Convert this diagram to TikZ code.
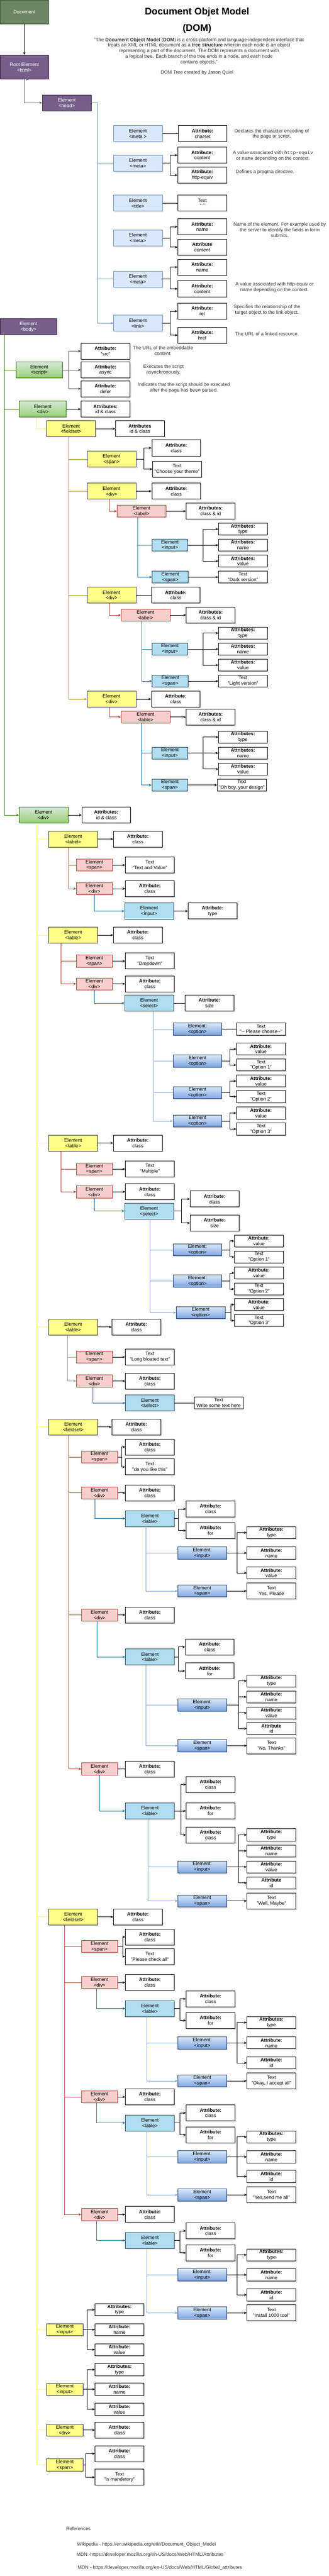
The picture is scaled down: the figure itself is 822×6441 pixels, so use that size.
\documentclass[tikz,border=0pt]{standalone}
\usepackage{fontspec}
\setmainfont{Liberation Sans}
\newfontfamily\codefont{Liberation Mono}
\usetikzlibrary{arrows.meta,shadows}

\definecolor{docfill}{HTML}{6D8764}
\definecolor{docline}{HTML}{3A5431}
\definecolor{rootfill}{HTML}{76608A}
\definecolor{rootline}{HTML}{2B1F36}
\definecolor{headfill}{HTML}{DAE8FC}
\definecolor{headline}{HTML}{6C8EBF}
\definecolor{greentop}{HTML}{D5E8D4}
\definecolor{greenbot}{HTML}{97D077}
\definecolor{greenline}{HTML}{2D7600}
\definecolor{yelfill}{HTML}{FFFF88}
\definecolor{yelline}{HTML}{36393D}
\definecolor{paleyel}{HTML}{FFFF66}
\definecolor{olive}{HTML}{B09500}
\definecolor{pinkfill}{HTML}{F8CECC}
\definecolor{redline}{HTML}{AE4132}
\definecolor{tealfill}{HTML}{B1DDF0}
\definecolor{tealline}{HTML}{10739E}
\definecolor{tealdraw}{HTML}{23445D}
\definecolor{opttop}{HTML}{DAE8FC}
\definecolor{optbot}{HTML}{7EA6E0}
\definecolor{optdraw}{HTML}{1F3C6E}
\definecolor{lightblue}{HTML}{7EA6E0}
\definecolor{remarkgray}{HTML}{333333}

\tikzset{
  elem/.style={draw,line width=1pt,align=center,inner sep=1pt,
    minimum width=122,minimum height=40,
    drop shadow={shadow xshift=3pt,shadow yshift=-3pt,opacity=.18}},
  docbox/.style={elem,fill=docfill,draw=docline,text=white,minimum height=60},
  rootbox/.style={elem,fill=rootfill,draw=rootline,text=white,minimum height=60},
  headbox/.style={elem,fill=headfill,draw=headline},
  greenbox/.style={elem,top color=greentop,bottom color=greenbot,draw=greenline},
  yelbox/.style={elem,fill=yelfill,draw=yelline},
  pinkbox/.style={elem,fill=pinkfill,draw=redline},
  tealbox/.style={elem,fill=tealfill,draw=tealdraw},
  optbox/.style={elem,top color=opttop,bottom color=optbot,draw=optdraw},
  attrbox/.style={elem,fill=white,line width=1.2pt},
  narrow/.style={minimum width=90,minimum height=30},
  flat/.style={minimum height=30},
  remark/.style={text=remarkgray,align=center},
  ln/.style={line width=1pt},
  ar/.style={line width=1pt,-{Stealth[length=7pt,width=6pt]}},
}

\begin{document}
\begin{tikzpicture}[x=1pt,y=-1pt,font=\fontsize{12}{14}\selectfont]
\useasboundingbox (0,0) rectangle (822,6441);

% header
\node (title) at (493,30) [font=\fontsize{24}{28}\selectfont\bfseries] {Document Objet Model};
\node (dom) at (493,72) [font=\fontsize{24}{28}\selectfont\bfseries] {(DOM)};
\node (quote) at (498,128) [remark] {"The \textbf{Document Object Model} (\textbf{DOM}) is a cross-platform and language-independent interface that\\
treats an XML or HTML document as a \textbf{tree structure} wherein each node is an object\\
representing a part of the document. The DOM represents a document with\\
a logical tree. Each branch of the tree ends in a node, and each node\\
contains objects."};
\node (author) at (493,182) [remark] {DOM Tree created by Jason Quiel};

\node (doc) at (61,30) [docbox] {Document};
\node (root) at (61,168) [rootbox] {Root Element\\<html>};
\node (head) at (167,257) [rootbox,minimum height=40] {Element\\<head>};
\node (body) at (71,817) [rootbox,minimum width=142,minimum height=40] {Element\\<body>};
\draw[ar] (doc) -- (root);
\draw[ar,rootfill] (root) |- (head);
\draw[ar,rootfill] (root) -- (root.south -| body.north);

% head
\node (meta1) at (345,334) [headbox] {Element\\<meta >};
\node (charset) at (507,334) [attrbox] {\textbf{Attribute:}\\charset};
\node (d1) at (680,335) [remark] {Declares the character encoding of\\the page or script.};
\node (meta2) at (345,408) [headbox] {Element\\<meta>};
\node (content1) at (506,388) [attrbox] {\textbf{Attribute:}\\content};
\node (equiv) at (506,438) [attrbox] {\textbf{Attribute:}\\http-equiv};
\node (d2) at (683,390) [remark] {A value associated with {\codefont http-equiv}\\or {\codefont name} depending on the context.};
\node (d3) at (663,431) [remark] {Defines a pragma directive.};
\node (titl) at (345,508) [headbox] {Element\\<title>};
\node (txt0) at (506,508) [attrbox] {Text\\" "};
\node (meta3) at (345,595) [headbox] {Element\\<meta>};
\node (name1) at (506,567) [attrbox] {\textbf{Attribute:}\\name};
\node (content2) at (506,618) [attrbox] {\textbf{Attribute}\\\textit{content}};
\node (d4) at (700,575) [remark] {Name of the element. For example used by\\the server to identify the fields in form\\submits.};
\node (meta4) at (345,698) [headbox] {Element\\<meta>};
\node (name2) at (506,668) [attrbox] {\textbf{Attribute:}\\name};
\node (content3) at (506,722) [attrbox] {\textbf{Attribute:}\\content};
\node (d5) at (687,718) [remark] {A value associated with http-equiv or\\name depending on the context.};
\node (link) at (345,808) [headbox] {Element\\<link>};
\node (rel) at (506,778) [attrbox] {\textbf{Attribute:}\\rel};
\node (href) at (506,838) [attrbox] {\textbf{Attribute:}\\href};
\node (d6) at (668,775) [remark] {Specifies the relationship of the\\target object to the link object.};
\node (d7) at (668,835) [remark] {The URL of a linked resource.};

\draw[ln,headline] (head.east) -- ++(15,0) |- (meta2);
\draw[ln,headline] (head.east) -- ++(15,0) |- (meta4);
\draw[ar,headline] (head.east) -- ++(15,0) |- (link);
\draw[ln] (meta1) -- (charset);
\draw[ar] (meta2.east) -- ++(19,0) |- (content1);
\draw[ar] (meta2.east) -- ++(19,0) |- (equiv);
\draw[ln] (titl) -- (txt0);
\draw[ar] (meta3.east) -- ++(19,0) |- (name1);
\draw[ar] (meta3.east) -- ++(19,0) |- (content2);
\draw[ar] (meta4.east) -- ++(19,0) |- (name2);
\draw[ar] (meta4.east) -- ++(19,0) |- (content3);
\draw[ar] (link.east) -- ++(19,0) |- (rel);
\draw[ar] (link.east) -- ++(19,0) |- (href);

% body
\node (script) at (98,925) [greenbox,minimum width=116] {Element\\<script>};
\node (src) at (264,878) [attrbox] {\textbf{Attribute:}\\"src"};
\node (async) at (264,925) [attrbox] {\textbf{Attribute:}\\async};
\node (defer) at (264,972) [attrbox] {\textbf{Attribute:}\\defer};
\node (d8) at (408,877) [remark] {The URL of the embeddable\\content.};
\node (d9) at (409,924) [remark] {Executes the script\\asynchronously.};
\node (d10) at (460,969) [remark] {Indicates that the script should be executed\\after the page has been parsed.};
\node (div1) at (107,1023) [greenbox,minimum width=117] {Element\\<div>};
\node (idc1) at (264,1023) [attrbox] {\textbf{Attributes:}\\id \& class};
\node (div2) at (109,2038) [greenbox] {Element\\<div>};
\node (idc3) at (266,2038) [attrbox] {\textbf{Attributes:}\\id \& class};

\draw[ln,greenline] ([xshift=-60pt]body.south) |- (script);
\draw[ln,greenline] ([xshift=-60pt]body.south) |- (div1);
\draw[ar,greenline] ([xshift=-60pt]body.south) |- (div2);
\draw[ar,black!75] (script.east) -- ++(15,0) |- (src);
\draw[ar,black!75] (script.east) -- ++(15,0) |- (async);
\draw[ar,black!75] (script.east) -- ++(15,0) |- (defer);
\draw[ar] (div1) -- (idc1);
\draw[ar] (div2) -- (idc3);

% first fieldset
\node (fs1) at (178,1072) [yelbox] {Element\\<fieldset>};
\node (idc2) at (350,1072) [attrbox] {\textbf{Attributes}\\id \& class};
\node (span1) at (279,1148) [yelbox] {Element\\<span>};
\node (cls1) at (441,1120) [attrbox] {\textbf{Attribute:}\\class};
\node (theme) at (443,1173) [attrbox] {Text\\"Choose your theme"};
\node (divA) at (279,1228) [yelbox] {Element\\<div>};
\node (clsA) at (441,1228) [attrbox] {\textbf{Attribute:}\\class};
\node (labelA) at (354,1278) [pinkbox,flat] {Element\\<label>};
\node (cidA) at (527,1278) [attrbox] {\textbf{Attributes:}\\class \& id};
\node (inputA) at (425,1363) [tealbox,narrow] {Element\\<input>};
\node (typeA) at (608,1323) [attrbox,flat] {\textbf{Attributes:}\\type};
\node (nameA) at (608,1363) [attrbox,flat] {\textbf{Attributes:}\\name};
\node (valA) at (608,1403) [attrbox,flat] {\textbf{Attributes:}\\value};
\node (spanA) at (426,1443) [tealbox,narrow] {Element\\<span>};
\node (dark) at (608,1443) [attrbox,flat] {Text\\"Dark version"};
\node (divB) at (279,1488) [yelbox] {Element\\<div>};
\node (clsB) at (440,1488) [attrbox] {\textbf{Attribute:}\\class};
\node (labelB) at (364,1538) [pinkbox,flat] {Element\\<label>};
\node (cidB) at (527,1538) [attrbox] {\textbf{Attributes:}\\class \& id};
\node (inputB) at (425,1623) [tealbox,narrow] {Element\\<input>};
\node (typeB) at (608,1583) [attrbox,flat] {\textbf{Attributes:}\\type};
\node (nameB) at (608,1623) [attrbox,flat] {\textbf{Attributes:}\\name};
\node (valB) at (608,1663) [attrbox,flat] {\textbf{Attributes:}\\value};
\node (spanB) at (426,1703) [tealbox,narrow] {Element\\<span>};
\node (light) at (608,1703) [attrbox,flat] {Text\\"Light version"};
\node (divC) at (279,1748) [yelbox] {Element\\<div>};
\node (clsC) at (440,1748) [attrbox] {\textbf{Attribute:}\\class};
\node (labelC) at (364,1793) [pinkbox,flat] {Element\\<lable>};
\node (cidC) at (527,1793) [attrbox] {\textbf{Attributes:}\\class \& id};
\node (inputC) at (425,1883) [tealbox,narrow] {Element\\<input>};
\node (typeC) at (608,1843) [attrbox,flat] {\textbf{Attributes:}\\type};
\node (nameC) at (608,1883) [attrbox,flat] {\textbf{Attributes:}\\name};
\node (valC) at (608,1923) [attrbox,flat] {\textbf{Attributes:}\\value};
\node (spanC) at (425,1963) [tealbox,narrow] {Element\\<span>};
\node (design) at (605,1963) [attrbox,flat] {Text\\"Oh boy, your design"};

\draw[ar,paleyel] ([xshift=-16pt]div1.south) |- (fs1);
\draw[ar] (fs1) -- (idc2);
\draw[ln,olive] ([xshift=-6pt]fs1.south) |- (span1);
\draw[ln,olive] ([xshift=-6pt]fs1.south) |- (divA);
\draw[ln,olive] ([xshift=-6pt]fs1.south) |- (divB);
\draw[ar,olive] ([xshift=-6pt]fs1.south) |- (divC);
\draw[ar] (span1.east) -- ++(20,0) |- (cls1);
\draw[ar] (span1.east) -- ++(20,0) |- (theme);
\draw[ar] (divA) -- (clsA);
\draw[ar,redline] ([xshift=-5pt]divA.south) |- (labelA);
\draw[ar] (labelA) -- (cidA);
\draw[ln,headline] ([xshift=-9pt]labelA.south) |- (inputA);
\draw[ar,tealline] ([xshift=-9pt]labelA.south) |- (spanA);
\draw[ar] (inputA.east) -- ++(38,0) |- (typeA);
\draw[ar] (inputA) -- (nameA);
\draw[ar] (inputA.east) -- ++(38,0) |- (valA);
\draw[ar] (spanA) -- (dark);
\draw[ln] (divB) -- (clsB);
\draw[ar,redline] ([xshift=-5pt]divB.south) |- (labelB);
\draw[ar] (labelB) -- (cidB);
\draw[ln,tealline] ([xshift=-9pt]labelB.south) |- (inputB);
\draw[ar,tealline] ([xshift=-9pt]labelB.south) |- (spanB);
\draw[ar] (inputB.east) -- ++(38,0) |- (typeB);
\draw[ar] (inputB) -- (nameB);
\draw[ar] (inputB.east) -- ++(38,0) |- (valB);
\draw[ar] (spanB) -- (light);
\draw[ar] (divC) -- (clsC);
\draw[ar,redline] ([xshift=-5pt]divC.south) |- (labelC);
\draw[ar] (labelC) -- (cidC);
\draw[ln,tealline] ([xshift=-10pt]labelC.south) |- (inputC);
\draw[ar,tealline] ([xshift=-10pt]labelC.south) |- (spanC);
\draw[ar] (inputC.east) -- ++(38,0) |- (typeC);
\draw[ar] (inputC) -- (nameC);
\draw[ar] (inputC.east) -- ++(38,0) |- (valC);
\draw[ar] (spanC) -- (design);

% second div: labels
\node (lab1) at (183,2098) [yelbox] {Element\\<label>};
\node (clsL1) at (345,2098) [attrbox] {\textbf{Attribute:}\\class};
\node (spanP1) at (236,2163) [pinkbox,narrow] {Element\\<span>};
\node (tv) at (375,2163) [attrbox] {Text\\"Text and Value"};
\node (divP1) at (236,2222) [pinkbox,narrow] {Element\\<div>};
\node (clsP1) at (375,2222) [attrbox] {\textbf{Attribute:}\\class};
\node (inT1) at (373,2278) [tealbox] {Element\\<input>};
\node (typeT1) at (532,2278) [attrbox] {\textbf{Attribute:}\\type};

\node (lab2) at (183,2338) [yelbox] {Element\\<lable>};
\node (clsL2) at (345,2338) [attrbox] {\textbf{Attribute:}\\class};
\node (spanP2) at (236,2403) [pinkbox,narrow] {Element\\<span>};
\node (drop) at (375,2403) [attrbox] {Text\\"Dropdown"};
\node (divP2) at (236,2460) [pinkbox,narrow] {Element\\<div>};
\node (clsP2) at (375,2460) [attrbox] {\textbf{Attribute:}\\class};
\node (sel1) at (373,2508) [tealbox] {Element\\<select>};
\node (size1) at (524,2508) [attrbox] {\textbf{Attribute:}\\size};
\node (opt1) at (494,2573) [optbox,flat] {Element:\\<option>};
\node (choose) at (653,2573) [attrbox,flat] {Text\\"{-}{-} Please choose{-}{-}"};
\node (opt2) at (494,2653) [optbox,flat] {Element\\<option>};
\node (v1) at (653,2623) [attrbox,flat] {\textbf{Attribute:}\\value};
\node (o1) at (653,2663) [attrbox,flat] {Text\\"Option 1"};
\node (opt3) at (494,2732) [optbox,flat] {Element\\<option>};
\node (v2) at (653,2703) [attrbox,flat] {\textbf{Attribute:}\\value};
\node (o2) at (653,2742) [attrbox,flat] {Text\\"Option 2"};
\node (opt4) at (494,2803) [optbox,flat] {Element\\<option>};
\node (v3) at (653,2783) [attrbox,flat] {\textbf{Attribute:}\\value};
\node (o3) at (653,2823) [attrbox,flat] {Text\\"Option 3"};

\node (lab3) at (183,2858) [yelbox] {Element\\<lable>};
\node (clsL3) at (345,2858) [attrbox] {\textbf{Attribute:}\\class};
\node (spanP3) at (236,2923) [pinkbox,narrow] {Element\\<span>};
\node (multi) at (375,2923) [attrbox] {Text\\"Multiple"};
\node (divP3) at (236,2980) [pinkbox,narrow] {Element\\<div>};
\node (clsP3) at (375,2980) [attrbox] {\textbf{Attribute:}\\class};
\node (sel2) at (373,3028) [tealbox] {Element\\<select>};
\node (clsS2) at (537,2998) [attrbox] {\textbf{Attribute:}\\class};
\node (sizeS2) at (537,3058) [attrbox] {\textbf{Attribute:}\\size};
\node (optA) at (494,3125) [optbox,flat] {Element:\\<option>};
\node (vA) at (648,3103) [attrbox,flat] {\textbf{Attribute:}\\value};
\node (oA) at (648,3143) [attrbox,flat] {Text\\"Option 1"};
\node (optB) at (494,3203) [optbox,flat] {Element:\\<option>};
\node (vB) at (648,3183) [attrbox,flat] {\textbf{Attribute:}\\value};
\node (oB) at (648,3223) [attrbox,flat] {Text\\"Option 2"};
\node (optC) at (502,3282) [optbox,flat] {Element\\<option>};
\node (vC) at (648,3262) [attrbox,flat] {\textbf{Attribute:}\\value};
\node (oC) at (648,3302) [attrbox,flat] {Text\\"Option 3"};

\node (lab4) at (183,3318) [yelbox] {Element\\<lable>};
\node (clsL4) at (341,3318) [attrbox] {\textbf{Attribute:}\\class};
\node (spanP4) at (236,3393) [pinkbox,narrow] {Element\\<span>};
\node (bloat) at (375,3393) [attrbox] {Text\\"Long bloated text"};
\node (divP4) at (236,3453) [pinkbox,narrow] {Element\\<div>};
\node (clsP4) at (375,3453) [attrbox] {\textbf{Attribute:}\\class};
\node (sel3) at (375,3508) [tealbox] {Element\\<select>};
\node (write) at (547,3508) [attrbox,flat] {Text\\Write some text here};

\draw[ln,paleyel] ([xshift=-17pt]div2.south) |- (lab1);
\draw[ln,paleyel] ([xshift=-17pt]div2.south) |- (lab2);
\draw[ln,paleyel] ([xshift=-17pt]div2.south) |- (lab3);
\draw[ln,paleyel] ([xshift=-17pt]div2.south) |- (lab4);
\draw[ar] (lab1) -- (clsL1);
\draw[ln,redline] ([xshift=-11pt]lab1.south) |- (spanP1);
\draw[ar,redline] ([xshift=-11pt]lab1.south) |- (divP1);
\draw[ar] (spanP1) -- (tv);
\draw[ar] (divP1) -- (clsP1);
\draw[ar,tealline] (divP1.south) |- (inT1);
\draw[ar] (inT1) -- (typeT1);
\draw[ar] (lab2) -- (clsL2);
\draw[ln,redline] ([xshift=-30pt]lab2.south) |- (spanP2);
\draw[ar,redline] ([xshift=-30pt]lab2.south) |- (divP2);
\draw[ar] (spanP2) -- (drop);
\draw[ar] (divP2) -- (clsP2);
\draw[ar,tealline] (divP2.south) |- (sel1);
\draw[ln] (sel1) -- (size1);
\draw[ln,lightblue] ([xshift=12pt]sel1.south) |- (opt1);
\draw[ln,lightblue] ([xshift=12pt]sel1.south) |- (opt2);
\draw[ln,lightblue] ([xshift=12pt]sel1.south) |- (opt3);
\draw[ar,lightblue] ([xshift=12pt]sel1.south) |- (opt4);
\draw[ln] (opt1) -- (choose);
\draw[ar] (opt2.east) -- ++(19,0) |- (v1);
\draw[ar] (opt2.east) -- ++(19,0) |- (o1);
\draw[ar] (opt3.east) -- ++(19,0) |- (v2);
\draw[ar] (opt3.east) -- ++(19,0) |- (o2);
\draw[ar] (opt4.east) -- ++(19,0) |- (v3);
\draw[ar] (opt4.east) -- ++(19,0) |- (o3);
\draw[ar] (lab3) -- (clsL3);
\draw[ln,redline] ([xshift=-30pt]lab3.south) |- (spanP3);
\draw[ar,redline] ([xshift=-30pt]lab3.south) |- (divP3);
\draw[ar] (spanP3) -- (multi);
\draw[ar] (divP3) -- (clsP3);
\draw[ar,tealline] (divP3.south) |- (sel2);
\draw[ar] (sel2.east) -- ++(20,0) |- (clsS2);
\draw[ar] (sel2.east) -- ++(20,0) |- (sizeS2);
\draw[ln,lightblue] ([xshift=2pt]sel2.south) |- (optA);
\draw[ln,lightblue] ([xshift=2pt]sel2.south) |- (optB);
\draw[ar,lightblue] ([xshift=2pt]sel2.south) |- (optC);
\draw[ar] (optA.east) -- ++(19,0) |- (vA);
\draw[ar] (optA.east) -- ++(19,0) |- (oA);
\draw[ar] (optB.east) -- ++(19,0) |- (vB);
\draw[ar] (optB.east) -- ++(19,0) |- (oB);
\draw[ar] (optC.east) -- ++(14,0) |- (vC);
\draw[ar] (optC.east) -- ++(14,0) |- (oC);
\draw[ar] (lab4) -- (clsL4);
\draw[ln,black!40] ([xshift=-14pt]lab4.south) |- (spanP4);
\draw[ar,black!40] ([xshift=-14pt]lab4.south) |- (divP4);
\draw[ar] (spanP4) -- (bloat);
\draw[ar] (divP4) -- (clsP4);
\draw[ar,tealline] ([xshift=-3pt]divP4.south) |- (sel3);
\draw[ln] (sel3) -- (write);

% second fieldset
\node (fs2) at (183,3568) [yelbox] {Element\\<fieldset>};
\node (clsF2) at (341,3568) [attrbox] {\textbf{Attribute:}\\class};
\node (spanQ1) at (249,3643) [pinkbox,narrow] {Element\\<span>};
\node (clsQ1) at (375,3618) [attrbox] {\textbf{Attribute:}\\class};
\node (like) at (375,3668) [attrbox] {Text\\"do you like this"};
\node (divQ1) at (249,3733) [pinkbox,narrow] {Element\\<div>};
\node (clsQ1b) at (375,3733) [attrbox] {\textbf{Attribute:}\\class};
\node (labT1) at (375,3797) [tealbox] {Element\\<lable>};
\node (clsT1) at (527,3773) [attrbox] {\textbf{Attribute:}\\class};
\node (forT1) at (527,3827) [attrbox] {\textbf{Attribute:}\\for};
\node (inO1) at (506,3883) [optbox,flat] {Element:\\<input>};
\node (tyO1) at (679,3832) [attrbox,flat] {\textbf{Attributes:}\\type};
\node (naO1) at (679,3883) [attrbox,flat] {\textbf{Attribute:}\\name};
\node (vaO1) at (679,3933) [attrbox,flat] {\textbf{Attribute:}\\value};
\node (spO1) at (506,3978) [optbox,flat] {Element\\<span>};
\node (yes) at (679,3978) [attrbox] {Text\\Yes, Please};
\node (divQ2) at (249,4038) [pinkbox,narrow] {Element\\<div>};
\node (clsQ2) at (375,4038) [attrbox] {\textbf{Attribute:}\\class};
\node (labT2) at (375,4143) [tealbox] {Element\\<lable>};
\node (clsT2) at (525,4118) [attrbox] {\textbf{Attribute:}\\class};
\node (forT2) at (525,4178) [attrbox] {\textbf{Attribute:}\\for};
\node (inO2) at (506,4263) [optbox,flat] {Element:\\<input>};
\node (tyO2) at (679,4203) [attrbox,flat] {\textbf{Attribute:}\\type};
\node (naO2) at (679,4243) [attrbox,flat] {\textbf{Attribute:}\\name};
\node (vaO2) at (679,4283) [attrbox,flat] {\textbf{Attribute:}\\value};
\node (idO2) at (679,4322) [attrbox,flat] {\textbf{Attribute}\\id};
\node (spO2) at (506,4365) [optbox,flat] {Element\\<span>};
\node (thanks) at (679,4365) [attrbox] {Text\\"No, Thanks"};
\node (divQ3) at (249,4423) [pinkbox,narrow] {Element\\<div>};
\node (clsQ3) at (375,4423) [attrbox] {\textbf{Attribute:}\\class};
\node (labT3) at (375,4528) [tealbox] {Element\\<lable>};
\node (clsT3a) at (527,4462) [attrbox] {\textbf{Attribute:}\\class};
\node (forT3) at (527,4528) [attrbox] {\textbf{Attribute:}\\for};
\node (clsT3b) at (527,4588) [attrbox] {\textbf{Attribute:}\\class};
\node (inO3) at (506,4668) [optbox,flat] {Element:\\<input>};
\node (tyO3) at (679,4588) [attrbox,flat] {\textbf{Attribute:}\\type};
\node (naO3) at (679,4628) [attrbox,flat] {\textbf{Attribute:}\\name};
\node (vaO3) at (679,4668) [attrbox,flat] {\textbf{Attribute:}\\value};
\node (idO3) at (679,4708) [attrbox,flat] {\textbf{Attribute}\\id};
\node (spO3) at (506,4753) [optbox,flat] {Element\\<span>};
\node (maybe) at (679,4753) [attrbox] {Text\\"Well, Maybe"};

\draw[ln,paleyel] ([xshift=-17pt]div2.south) |- (fs2);
\draw[ar] (fs2) -- (clsF2);
\draw[ln,redline] ([xshift=-11pt]fs2.south) |- (spanQ1);
\draw[ln,redline] ([xshift=-11pt]fs2.south) |- (divQ1);
\draw[ln,redline] ([xshift=-11pt]fs2.south) |- (divQ2);
\draw[ar,redline] ([xshift=-11pt]fs2.south) |- (divQ3);
\draw[ar] (spanQ1.east) -- ++(10,0) |- (clsQ1);
\draw[ar] (spanQ1.east) -- ++(10,0) |- (like);
\draw[ar] (divQ1) -- (clsQ1b);
\draw[ar,tealline] ([xshift=-11pt]divQ1.south) |- (labT1);
\draw[ar] (labT1.east) -- ++(10,0) |- (clsT1);
\draw[ar] (labT1.east) -- ++(10,0) |- (forT1);
\draw[ln,lightblue] ([xshift=-10pt]labT1.south) |- (inO1);
\draw[ar,lightblue] ([xshift=-10pt]labT1.south) |- (spO1);
\draw[ar] (inO1.east) -- ++(25,0) |- (tyO1);
\draw[ar] (inO1) -- (naO1);
\draw[ar] (inO1.east) -- ++(25,0) |- (vaO1);
\draw[ar] (spO1) -- (yes);
\draw[ar] (divQ2) -- (clsQ2);
\draw[ar,tealline] ([xshift=-6pt]divQ2.south) |- (labT2);
\draw[ar] (labT2.east) -- ++(10,0) |- (clsT2);
\draw[ar] (labT2.east) -- ++(10,0) |- (forT2);
\draw[ln,lightblue] ([xshift=-10pt]labT2.south) |- (inO2);
\draw[ar,lightblue] ([xshift=-10pt]labT2.south) |- (spO2);
\draw[ar] (inO2.east) -- ++(30,0) |- (tyO2);
\draw[ar] (inO2.east) -- ++(30,0) |- (naO2);
\draw[ar] (inO2.east) -- ++(30,0) |- (vaO2);
\draw[ar] (inO2.east) -- ++(30,0) |- (idO2);
\draw[ar] (spO2) -- (thanks);
\draw[ln] (divQ3) -- (clsQ3);
\draw[ar,tealline] (divQ3.south) |- (labT3);
\draw[ar] (labT3.east) -- ++(16,0) |- (clsT3a);
\draw[ar] (labT3) -- (forT3);
\draw[ar] (labT3.east) -- ++(16,0) |- (clsT3b);
\draw[ln,lightblue] ([xshift=-5pt]labT3.south) |- (inO3);
\draw[ar,lightblue] ([xshift=-5pt]labT3.south) |- (spO3);
\draw[ar] (inO3.east) -- ++(30,0) |- (tyO3);
\draw[ar] (inO3.east) -- ++(30,0) |- (naO3);
\draw[ar] (inO3) -- (vaO3);
\draw[ar] (inO3.east) -- ++(30,0) |- (idO3);
\draw[ar] (spO3) -- (maybe);

% third fieldset
\node (fs3) at (183,4793) [yelbox] {Element\\<fieldset>};
\node (clsF3) at (345,4793) [attrbox] {\textbf{Attribute:}\\class};
\node (spanR1) at (249,4867) [pinkbox,narrow] {Element\\<span>};
\node (clsR1) at (375,4843) [attrbox] {\textbf{Attribute:}\\class};
\node (check) at (375,4892) [attrbox] {Text\\"Please check all"};
\node (divR1) at (249,4957) [pinkbox,narrow] {Element\\<div>};
\node (clsR1b) at (375,4957) [attrbox] {\textbf{Attribute:}\\class};
\node (labT4) at (375,5022) [tealbox] {Element\\<lable>};
\node (clsT4) at (527,4998) [attrbox] {\textbf{Attribute:}\\class};
\node (forT4) at (527,5052) [attrbox] {\textbf{Attribute:}\\for};
\node (inO4) at (506,5108) [optbox,flat] {Element:\\<input>};
\node (tyO4) at (679,5057) [attrbox,flat] {\textbf{Attributes:}\\type};
\node (naO4) at (679,5108) [attrbox,flat] {\textbf{Attribute:}\\name};
\node (idO4) at (679,5158) [attrbox,flat] {\textbf{Attribute:}\\id};
\node (spO4) at (506,5203) [optbox,flat] {Element\\<span>};
\node (accept) at (679,5203) [attrbox] {Text\\"Okay, I accept all"};
\node (divR2) at (249,5243) [pinkbox,narrow] {Element\\<div>};
\node (clsR2) at (375,5243) [attrbox] {\textbf{Attribute:}\\class};
\node (labT5) at (375,5308) [tealbox] {Element\\<lable>};
\node (clsT5) at (527,5283) [attrbox] {\textbf{Attribute:}\\class};
\node (forT5) at (527,5338) [attrbox] {\textbf{Attribute:}\\for};
\node (inO5) at (506,5393) [optbox,flat] {Element:\\<input>};
\node (tyO5) at (679,5343) [attrbox,flat] {\textbf{Attributes:}\\type};
\node (naO5) at (679,5393) [attrbox,flat] {\textbf{Attribute:}\\name};
\node (idO5) at (679,5442) [attrbox,flat] {\textbf{Attribute:}\\id};
\node (spO5) at (506,5488) [optbox,flat] {Element\\<span>};
\node (sendall) at (679,5488) [attrbox] {Text\\"Yes,send me all"};
\node (divR3) at (249,5537) [pinkbox,narrow] {Element\\<div>};
\node (clsR3) at (375,5537) [attrbox] {\textbf{Attribute:}\\class};
\node (labT6) at (375,5602) [tealbox] {Element\\<lable>};
\node (clsT6) at (527,5578) [attrbox] {\textbf{Attribute:}\\class};
\node (forT6) at (527,5633) [attrbox] {\textbf{Attribute:}\\for};
\node (inO6) at (506,5688) [optbox,flat] {Element:\\<input>};
\node (tyO6) at (679,5638) [attrbox,flat] {\textbf{Attributes:}\\type};
\node (naO6) at (679,5688) [attrbox,flat] {\textbf{Attribute:}\\name};
\node (idO6) at (679,5738) [attrbox,flat] {\textbf{Attribute:}\\id};
\node (spO6) at (506,5783) [optbox,flat] {Element\\<span>};
\node (install) at (679,5783) [attrbox] {Text\\"Install 1000 tool"};

\draw[ln,paleyel] ([xshift=-17pt]div2.south) |- (fs3);
\draw[ar] (fs3) -- (clsF3);
\draw[ln,redline] ([xshift=-21pt]fs3.south) |- (spanR1);
\draw[ln,redline] ([xshift=-21pt]fs3.south) |- (divR1);
\draw[ln,redline] ([xshift=-21pt]fs3.south) |- (divR2);
\draw[ar,redline] ([xshift=-21pt]fs3.south) |- (divR3);
\draw[ar] (spanR1.east) -- ++(12,0) |- (clsR1);
\draw[ar] (spanR1.east) -- ++(12,0) |- (check);
\draw[ar] (divR1) -- (clsR1b);
\draw[ar,tealline] ([xshift=-8pt]divR1.south) |- (labT4);
\draw[ar] (labT4.east) -- ++(13,0) |- (clsT4);
\draw[ar] (labT4.east) -- ++(13,0) |- (forT4);
\draw[ln,lightblue] ([xshift=-8pt]labT4.south) |- (inO4);
\draw[ar,lightblue] ([xshift=-8pt]labT4.south) |- (spO4);
\draw[ar] (inO4.east) -- ++(25,0) |- (tyO4);
\draw[ar] (inO4) -- (naO4);
\draw[ar] (inO4.east) -- ++(25,0) |- (idO4);
\draw[ar] (spO4) -- (accept);
\draw[ar] (divR2) -- (clsR2);
\draw[ar,tealline] ([xshift=-8pt]divR2.south) |- (labT5);
\draw[ar] (labT5.east) -- ++(13,0) |- (clsT5);
\draw[ar] (labT5.east) -- ++(13,0) |- (forT5);
\draw[ln,lightblue] ([xshift=-8pt]labT5.south) |- (inO5);
\draw[ar,lightblue] ([xshift=-8pt]labT5.south) |- (spO5);
\draw[ar] (inO5.east) -- ++(25,0) |- (tyO5);
\draw[ar] (inO5) -- (naO5);
\draw[ar] (inO5.east) -- ++(25,0) |- (idO5);
\draw[ar] (spO5) -- (sendall);
\draw[ar] (divR3) -- (clsR3);
\draw[ar,tealline] ([xshift=-8pt]divR3.south) |- (labT6);
\draw[ar] (labT6.east) -- ++(13,0) |- (clsT6);
\draw[ar] (labT6.east) -- ++(13,0) |- (forT6);
\draw[ln,lightblue] ([xshift=-8pt]labT6.south) |- (inO6);
\draw[ar,lightblue] ([xshift=-8pt]labT6.south) |- (spO6);
\draw[ar] (inO6.east) -- ++(25,0) |- (tyO6);
\draw[ar] (inO6) -- (naO6);
\draw[ar] (inO6.east) -- ++(25,0) |- (idO6);
\draw[ar] (spO6) -- (install);

% last inputs
\node (inY1) at (162,5825) [yelbox,narrow,minimum width=91] {Element\\<input>};
\node (tyY1) at (299,5775) [attrbox,flat] {\textbf{Attributes:}\\type};
\node (naY1) at (299,5825) [attrbox,flat] {\textbf{Attribute:}\\name};
\node (vaY1) at (299,5875) [attrbox,flat] {\textbf{Attribute:}\\value};
\node (inY2) at (162,5974) [yelbox,narrow,minimum width=91] {Element\\<input>};
\node (tyY2) at (299,5925) [attrbox,flat] {\textbf{Attributes:}\\type};
\node (naY2) at (299,5974) [attrbox,flat] {\textbf{Attribute:}\\name};
\node (vaY2) at (299,6024) [attrbox,flat] {\textbf{Attribute:}\\value};
\node (divY) at (162,6076) [yelbox,narrow,minimum width=91] {Element\\<div>};
\node (clsY) at (299,6076) [attrbox] {\textbf{Attribute:}\\class};
\node (spanY) at (162,6163) [yelbox,narrow,minimum width=91] {Element\\<span>};
\node (clsY2) at (299,6135) [attrbox] {\textbf{Attribute:}\\class};
\node (mand) at (299,6194) [attrbox] {Text\\"is mandetory"};

\draw[ln,paleyel] ([xshift=-17pt]div2.south) |- (inY1);
\draw[ln,paleyel] ([xshift=-17pt]div2.south) |- (inY2);
\draw[ln,paleyel] ([xshift=-17pt]div2.south) |- (divY);
\draw[ar,paleyel] ([xshift=-17pt]div2.south) |- (spanY);
\draw[ar] (inY1.east) -- ++(10,0) |- (tyY1);
\draw[ar] (inY1) -- (naY1);
\draw[ar] (inY1.east) -- ++(10,0) |- (vaY1);
\draw[ar] (inY2.east) -- ++(10,0) |- (tyY2);
\draw[ar] (inY2) -- (naY2);
\draw[ar] (inY2.east) -- ++(10,0) |- (vaY2);
\draw[ar] (divY) -- (clsY);
\draw[ar] (spanY.east) -- ++(6,0) |- (clsY2);
\draw[ar] (spanY.east) -- ++(6,0) |- (mand);

% references
\node (refs) at (162,6323) [remark,anchor=west] {References};
\node (ref1) at (189,6363) [remark,anchor=west] {Wikipedia - https://en.wikipedia.org/wiki/Document\_Object\_Model};
\node (ref2) at (188,6388) [remark,anchor=west] {MDN -https://developer.mozilla.org/en-US/docs/Web/HTML/Attributes};
\node (ref3) at (191,6420) [remark,anchor=west] {MDN - https://developer.mozilla.org/en-US/docs/Web/HTML/Global\_attributes};
\end{tikzpicture}
\end{document}
